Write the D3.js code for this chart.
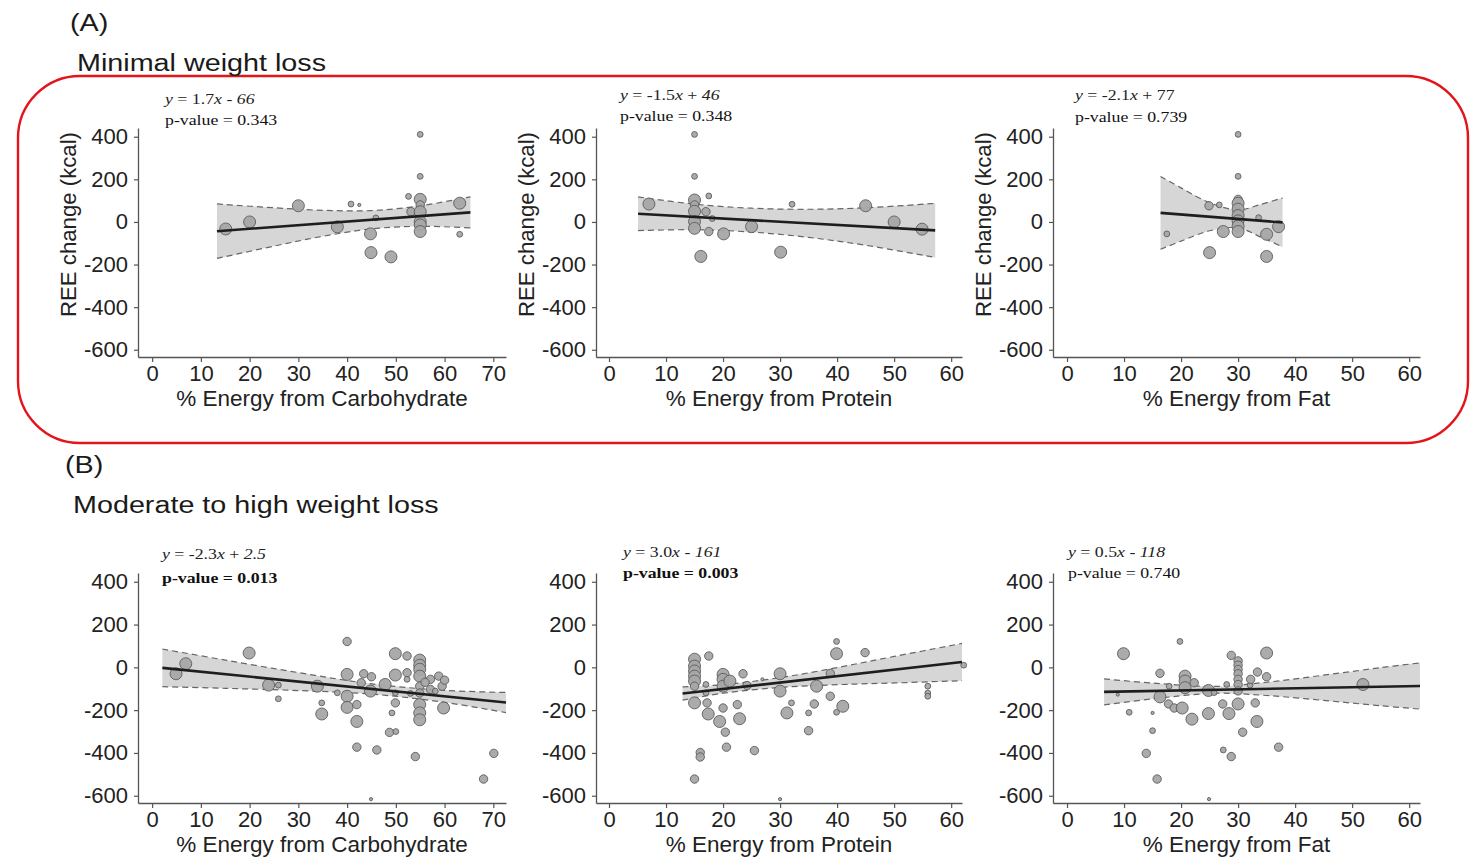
<!DOCTYPE html>
<html>
<head>
<meta charset="utf-8">
<script src="https://cdn.jsdelivr.net/npm/d3@7"></script>
<style>
  body { margin: 0; background: #fff; }
  svg { display: block; }
</style>
</head>
<body>
<svg id="chart" width="1473" height="857"></svg>
<script>
// ---- Data: [% energy, REE change (kcal), marker size class 1..4] ----
const carbMinimal = [
  [15.1,-33,4],[20,0,4],[30,76,4],[38,-23,4],[40.8,84,2],[42.5,80,1],[45.9,19,2],
  [44.8,-56,4],[44.9,-144,4],[49,-164,4],[52.6,120,2],[53.1,48,3],[55,411,2],[55,214,2],
  [55,106,4],[55,80,3],[55,48,4],[55,1,4],[55,-14,4],[55,-45,4],[63.1,88,4],[63.1,-58,2]
];
const proteinMinimal = [
  [7,84,4],[15,411,2],[15,214,2],[15,103,4],[15,80,3],[15,50,4],[15,2,4],[15,-30,4],
  [17.5,122,2],[17,48,3],[18.1,16,2],[17.5,-45,3],[20.1,-56,4],[25,-22,4],[16.1,-162,4],
  [30.1,-142,4],[32.1,83,2],[45,76,4],[50,0,4],[54.9,-34,4]
];
const fatMinimal = [
  [17.5,-56,2],[24.9,76,3],[26.7,80,2],[25,-144,4],[27.4,-45,4],[30,411,2],[30,214,2],
  [30,106,3],[30,88,4],[30,60,4],[30,30,4],[30,5,4],[30,-20,4],[30,-45,4],[33.6,20,2],
  [35,-58,4],[35,-162,4],[37.1,-22,4]
];
const carbModerate = [
  [4.9,-30,4],[6.9,17,4],[19.9,67,4],[23.9,-83,4],[25.9,-83,2],[25.9,-147,2],[33.9,-88,4],
  [34.8,-166,2],[34.8,-218,4],[40,121,3],[40,-33,4],[40,-135,4],[40,-187,4],[38,-119,2],
  [42,-174,3],[42,-253,4],[42,-373,3],[43.4,-30,3],[42.9,-72,3],[45,-44,3],[44.8,-111,4],
  [46.1,-386,3],[44.9,-616,1],[47.8,-80,4],[49.9,64,4],[49.9,-36,4],[49.9,-119,2],
  [49.9,-166,3],[49.2,-213,2],[48.7,-304,3],[50,-300,2],[52.3,53,3],[52.3,-25,3],
  [52.3,-56,2],[53,-122,2],[54,-417,3],[54.9,34,4],[54.9,10,4],[54.9,-9,4],[54.9,-41,4],
  [54.9,-88,3],[54.9,-120,3],[54.9,-174,4],[54.9,-213,4],[54.9,-245,4],[57.1,-56,3],
  [57.1,-103,3],[58.8,-41,3],[59.5,-88,3],[59.8,-190,4],[58.1,-111,2],[56,-70,3],
  [60,-60,3],[70.1,-402,3],[68,-522,3]
];
const proteinModerate = [
  [15,38,4],[15,6,4],[15,-17,4],[15,-41,4],[15,-64,4],[15,-88,3],[15,-166,4],[16,-398,3],
  [16,-419,3],[15,-522,3],[17,-80,2],[17,-119,2],[17.2,-166,3],[17.5,53,3],[17.4,-218,4],
  [19.4,-253,4],[20,-33,4],[20,-56,4],[20,-88,4],[20,-190,3],[20.4,-303,3],[20.6,-373,3],
  [21.2,-64,4],[22.5,-174,3],[22.9,-240,4],[23.5,-30,3],[24.2,-85,3],[25.5,-389,3],
  [26.9,-56,1],[30,-30,4],[30,-111,4],[30,-616,1],[31.2,-213,4],[32,-166,2],[35,-213,2],
  [35,-296,3],[36,-171,3],[36.4,-88,4],[38.8,-28,3],[38.8,-135,3],[39.9,121,2],[39.9,64,4],
  [39.9,-210,2],[41,-182,4],[44.9,69,3],[55.9,-88,2],[55.9,-120,2],[55.9,-135,2],[62.2,10,2]
];
const fatModerate = [
  [9.9,64,4],[8.9,-127,1],[10.9,-210,2],[13.9,-402,3],[15,-213,1],[15,-296,2],[15.8,-522,3],
  [16.3,-28,3],[16.3,-138,4],[17.9,-88,2],[17.8,-171,3],[18.8,-190,3],[19.8,121,2],
  [20.2,-190,4],[20.7,-41,4],[20.7,-64,4],[20.7,-95,4],[21.9,-242,4],[22.3,-72,3],
  [24.8,-108,4],[24.8,-216,4],[24.9,-616,1],[25.8,-118,2],[27.3,-171,3],[27.4,-386,2],
  [28,-80,2],[28.4,-216,4],[28.8,56,3],[28.8,-417,3],[30,30,3],[30,10,3],[30,-10,3],
  [30,-30,3],[30,-56,3],[30,-80,3],[30,-110,3],[30,-171,4],[30.8,-303,3],[32.1,-83,2],
  [32.2,-56,3],[33,-166,3],[33.3,-253,4],[33.4,-22,3],[35,67,4],[35,-44,3],[37.1,-373,3],
  [51.9,-80,4]
];

// ---- Fitted regressions ----
const fitSlopes     = [1.7, -1.5, -2.1, -2.3, 3.0, 0.5];
const fitIntercepts = [-66, 46, 77, 2.5, -161, -118];
const fitRanges     = [[13.3,65.3],[5.1,57.2],[16.4,37.8],[2.1,72.6],[12.9,61.9],[6.5,61.9]];
const pValues       = ["0.343","0.348","0.739","0.013","0.003","0.740"];
const pSignificant  = [false,false,false,true,true,false];
const interceptItalic = [true,true,false,true,true,true];

// 95% confidence band half-widths (kcal) at given % energy
const bandX = [
  [13.3,25,35,45,55,65.3],
  [5.1,15,25,35,45,57.2],
  [16.4,20,25,30,34,37.8],
  [2.1,15,30,45,60,72.6],
  [12.9,20,30,40,50,61.9],
  [6.5,15,26,35,45,55,61.9]
];
const bandHalfWidth = [
  [128,90,61,43,48,73],
  [79,60,56,66,88,127],
  [171,125,66,42,77,115],
  [88,66,42,24,28,47],
  [31,20,23,40,62,87],
  [61,37,16,31,59,89,108]
];

// ---- Axes ----
const xTitles = ["% Energy from Carbohydrate","% Energy from Protein","% Energy from Fat"];
const xTicksCarb = [0,10,20,30,40,50,60,70];
const xTicksOther = [0,10,20,30,40,50,60];
const yTicks = [400,200,0,-200,-400,-600];
const yTitle = "REE change (kcal)";
const sectionLabels = ["(A)","(B)"];
const sectionTitles = ["Minimal weight loss","Moderate to high weight loss"];

const panelPoints = [carbMinimal, proteinMinimal, fatMinimal, carbModerate, proteinModerate, fatModerate];

// ---- Layout ----
const svg = d3.select("#chart");
const FONT = "'Liberation Sans', Arial, Helvetica, sans-serif";
const SERIF = "'Liberation Serif', 'Times New Roman', serif";

const columns = [
  { range: [138, 506], domain: [-2.9, 72.6], ticks: xTicksCarb },
  { range: [596, 962], domain: [-2.28, 61.9], ticks: xTicksOther },
  { range: [1053, 1420], domain: [-2.46, 61.9], ticks: xTicksOther }
];
const rows = [
  { range: [357, 128], titleY: 406, eqY: [104, 100, 100], pY: [124.5, 121, 122], eqX: [165, 620, 1075], yTitle: true },
  { range: [803, 573], titleY: 852, eqY: [558.5, 556.5, 556.5], pY: [583, 578, 578], eqX: [162, 623, 1068], yTitle: false }
];
const yDomain = [-634, 441];

// red frame around section A
svg.append("rect")
  .attr("x", 18).attr("y", 76).attr("width", 1450).attr("height", 367)
  .attr("rx", 62).attr("ry", 62)
  .attr("fill", "none").attr("stroke", "#e4141b").attr("stroke-width", 2.4);

// section headings (stretched typeface)
const headPos = [
  { lx: 70, ly: 31, tx: 77, ty: 71 },
  { lx: 65, ly: 473, tx: 73, ty: 513 }
];
headPos.forEach((h, i) => {
  svg.append("text").attr("transform", `translate(${h.lx},${h.ly}) scale(1.25,1)`)
    .attr("font-family", FONT).attr("font-size", 23).attr("fill", "#1a1a1a")
    .text(sectionLabels[i]);
  svg.append("text").attr("transform", `translate(${h.tx},${h.ty}) scale(1.25,1)`)
    .attr("font-family", FONT).attr("font-size", 23).attr("fill", "#1a1a1a")
    .text(sectionTitles[i]);
});

const rScale = d3.scaleOrdinal().domain([1,2,3,4]).range([1.6, 2.9, 4.2, 6.0]);

panelPoints.forEach((pts, k) => {
  const row = rows[Math.floor(k / 3)];
  const col = columns[k % 3];
  const x = d3.scaleLinear().domain(col.domain).range(col.range);
  const y = d3.scaleLinear().domain(yDomain).range(row.range);
  const g = svg.append("g");

  const slope = fitSlopes[k], icpt = fitIntercepts[k];
  const fit = v => slope * v + icpt;

  // confidence band
  const band = bandX[k].map((bx, j) => ({ x: bx, hw: bandHalfWidth[k][j] }));
  const curve = d3.curveCatmullRom.alpha(0.5);
  g.append("path").datum(band)
    .attr("d", d3.area().curve(curve)
      .x(d => x(d.x)).y0(d => y(fit(d.x) - d.hw)).y1(d => y(fit(d.x) + d.hw)))
    .attr("fill", "#d6d6d6").attr("stroke", "none");
  [1, -1].forEach(sgn => {
    g.append("path").datum(band)
      .attr("d", d3.line().curve(curve).x(d => x(d.x)).y(d => y(fit(d.x) + sgn * d.hw)))
      .attr("fill", "none").attr("stroke", "#666").attr("stroke-width", 1.2)
      .attr("stroke-dasharray", "6,4");
  });

  // points
  g.append("g").selectAll("circle").data(pts).join("circle")
    .attr("cx", d => x(d[0])).attr("cy", d => y(d[1])).attr("r", d => rScale(d[2]))
    .attr("fill", "#a6a6a6").attr("fill-opacity", 0.95)
    .attr("stroke", "#5c5c5c").attr("stroke-width", 0.9);

  // regression line
  const fr = fitRanges[k];
  g.append("path").datum(fr)
    .attr("d", d3.line().x(d => x(d)).y(d => y(fit(d))))
    .attr("fill", "none").attr("stroke", "#1e1e1e").attr("stroke-width", 2.6);

  // axes (plain hyphen for negative tick labels)
  const fmt = d => String(d);
  const xAxis = g.append("g").attr("transform", `translate(0,${row.range[0]})`)
    .call(d3.axisBottom(x).tickValues(col.ticks).tickFormat(fmt).tickSize(5).tickSizeOuter(0).tickPadding(3));
  const yAxis = g.append("g").attr("transform", `translate(${col.range[0]},0)`)
    .call(d3.axisLeft(y).tickValues(yTicks).tickFormat(fmt).tickSize(4).tickSizeOuter(0).tickPadding(6));
  [xAxis, yAxis].forEach(a => {
    a.select(".domain").attr("stroke", "#555").attr("stroke-width", 1.3);
    a.selectAll(".tick line").attr("stroke", "#555").attr("stroke-width", 1.2);
    a.selectAll(".tick text").attr("font-family", FONT).attr("font-size", 22).attr("fill", "#222");
  });

  // axis titles
  g.append("text")
    .attr("x", (col.range[0] + col.range[1]) / 2).attr("y", row.titleY)
    .attr("text-anchor", "middle").attr("font-family", FONT).attr("font-size", 22.5).attr("fill", "#222")
    .text(xTitles[k % 3]);
  if (row.yTitle) {
    g.append("text")
      .attr("transform", `translate(${col.range[0] - 62},${(row.range[0] + row.range[1]) / 2 - 18}) rotate(-90)`)
      .attr("text-anchor", "middle").attr("font-family", FONT).attr("font-size", 22.2).attr("fill", "#222")
      .text(yTitle);
  }

  // equation and p-value
  const c = k % 3;
  const eq = g.append("text")
    .attr("transform", `translate(${row.eqX[c]},${row.eqY[c]}) scale(1.27,1)`)
    .attr("font-family", SERIF).attr("font-size", 14).attr("fill", "#222");
  const sign = icpt < 0 ? "-" : "+";
  eq.append("tspan").attr("font-style", "italic").text("y");
  eq.append("tspan").text(` = ${slope.toFixed(1)}`);
  eq.append("tspan").attr("font-style", "italic").text("x");
  eq.append("tspan").text(` ${sign} `);
  eq.append("tspan").attr("font-style", interceptItalic[k] ? "italic" : "normal").text(String(Math.abs(icpt)));

  g.append("text")
    .attr("transform", `translate(${row.eqX[c]},${row.pY[c]}) scale(1.27,1)`)
    .attr("font-family", SERIF).attr("font-size", 14).attr("fill", "#111")
    .attr("font-weight", pSignificant[k] ? "bold" : "normal")
    .text(`p-value = ${pValues[k]}`);
});
</script>
</body>
</html>
